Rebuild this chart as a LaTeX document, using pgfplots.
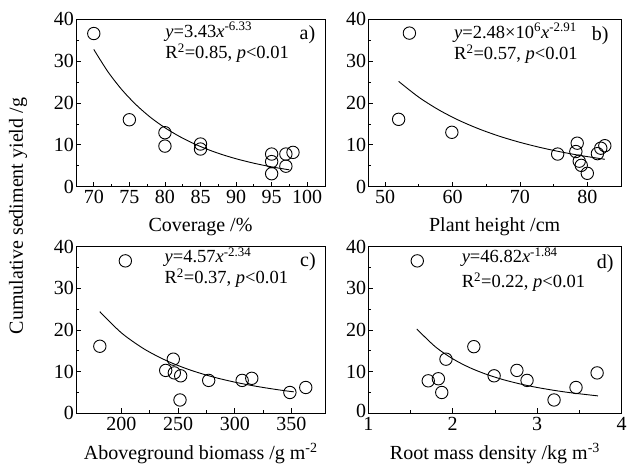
\documentclass[border=0pt]{standalone}
\usepackage{fontspec}
\setmainfont{Liberation Serif}
\usepackage{pgfplots}
\pgfplotsset{compat=1.18}
\pgfplotsset{
  panel/.style={
    scale only axis,
    ymin=0, ymax=40, ytick={0,10,20,30,40},
    minor x tick num=1, minor y tick num=1,
    tick pos=left, tick align=inside,
    major tick length=5pt, minor tick length=3pt,
    axis line style={line width=1pt},
    every tick/.style={black, line width=0.8pt},
    tick label style={font=\fontsize{20}{24}\selectfont},
    /pgf/number format/assume math mode=true,
    yticklabel style={inner xsep=2pt},
    label style={font=\fontsize{20}{24}\selectfont},
    xlabel style={at={(axis description cs:0.5,0)}, anchor=center, yshift=-40pt},
    clip=false,
  },
  pts/.style={only marks, mark=o, mark size=6.2pt, mark options={line width=0.9pt, black}},
  fit/.style={no marks, smooth, black, line width=0.9pt},
}
\newcommand{\ann}{\fontsize{18.5}{22}\selectfont}
\begin{document}
\begin{tikzpicture}
\useasboundingbox (0,0) rectangle (635pt,467pt);
\node[rotate=90, font=\fontsize{20}{24}\selectfont] at (18pt,251pt) {Cumulative sediment yield /g};

% a) Coverage
\begin{axis}[panel, at={(76pt,280.3pt)}, anchor=south west, width=249pt, height=167.4pt,
  xmin=67.5, xmax=102.5, xtick={70,75,...,100}, xlabel={Coverage /\%}]
\addplot[fit] coordinates {(70,32.80) (72,27.44) (74,23.07) (76,19.49) (78,16.53) (80,14.09) (82,12.05) (84,10.34) (86,8.91) (88,7.70) (90,6.68) (92,5.81) (94,5.07) (96,4.44) (97.5,4.03)};
\addplot[pts] coordinates {(70,36.6) (75,16.0) (80,12.9) (80,9.7) (85,10.2) (85,9.0) (95,7.8) (95,6.0) (95,3.1) (97,7.8) (97,4.9) (98,8.2)};
\node[anchor=west, font=\ann] at (rel axis cs:0.345,0.926) {\textit{y}=3.43\textit{x}\textsuperscript{-6.33}};
\node[anchor=west, font=\ann] at (rel axis cs:0.345,0.797) {R\textsuperscript{2}=0.85, \textit{p}<0.01};
\node[anchor=east, font=\fontsize{20}{24}\selectfont] at (rel axis cs:0.975,0.91) {a)};
\end{axis}

% b) Plant height
\begin{axis}[panel, at={(368.3pt,280.3pt)}, anchor=south west, width=252.7pt, height=167.4pt,
  xmin=47.5, xmax=85, xtick={50,60,70,80}, xlabel={Plant height /cm}]
\addplot[fit] coordinates {(52,25.17) (55,21.38) (58,18.32) (61,15.82) (64,13.76) (67,12.04) (70,10.60) (73,9.38) (76,8.34) (79,7.45) (82.6,6.55)};
\addplot[pts] coordinates {(53.6,36.7) (52.0,16.1) (59.9,13.0) (75.6,7.8) (78.5,10.4) (78.3,8.4) (78.8,6.1) (79.1,5.1) (80.0,3.2) (81.5,7.9) (82.0,9.2) (82.6,9.8)};
\node[anchor=west, font=\ann] at (rel axis cs:0.326,0.920) {\textit{y}=2.48×10\textsuperscript{6}\textit{x}\textsuperscript{-2.91}};
\node[anchor=west, font=\ann] at (rel axis cs:0.326,0.791) {R\textsuperscript{2}=0.57, \textit{p}<0.01};
\node[anchor=east, font=\fontsize{20}{24}\selectfont] at (rel axis cs:0.965,0.905) {b)};
\end{axis}

% c) Aboveground biomass
\begin{axis}[panel, at={(76pt,53.7pt)}, anchor=south west, width=249.5pt, height=166.6pt,
  xmin=160, xmax=380, xtick={200,250,300,350}, xlabel={Aboveground biomass /g m\textsuperscript{-2}}]
\addplot[fit] coordinates {(181,24.4) (200,19.32) (220,15.46) (240,12.61) (260,10.46) (280,8.79) (300,7.48) (320,6.43) (340,5.58) (352,5.15)};
\addplot[pts] coordinates {(203.5,36.6) (181,16.1) (245.8,13.0) (239.1,10.3) (246.7,9.7) (252.3,9.0) (251.7,3.2) (277,7.9) (306.5,7.9) (315,8.4) (348.6,5.0) (362.6,6.2)};
\node[anchor=west, font=\ann] at (rel axis cs:0.341,0.936) {\textit{y}=4.57\textit{x}\textsuperscript{-2.34}};
\node[anchor=west, font=\ann] at (rel axis cs:0.341,0.810) {R\textsuperscript{2}=0.37, \textit{p}<0.01};
\node[anchor=east, font=\fontsize{20}{24}\selectfont] at (rel axis cs:0.975,0.91) {c)};
\end{axis}

% d) Root mass density
\begin{axis}[panel, at={(368.3pt,53.7pt)}, anchor=south west, width=253.3pt, height=166.6pt,
  xmin=1, xmax=4, xtick={1,2,3,4}, xlabel={Root mass density /kg m\textsuperscript{-3}},
  yticklabels={\raisebox{4pt}{0},10,20,30,40}]
\addplot[fit] coordinates {(1.58,20.2) (1.6,19.72) (1.8,15.87) (2.0,13.08) (2.2,10.97) (2.4,9.35) (2.6,8.07) (2.8,7.04) (3.0,6.20) (3.2,5.51) (3.4,4.93) (3.72,4.18)};
\addplot[pts] coordinates {(1.58,36.6) (1.71,7.8) (1.83,8.3) (1.87,5.0) (1.92,13.0) (2.25,16.0) (2.49,9.0) (2.76,10.3) (2.88,7.9) (3.20,3.2) (3.46,6.2) (3.71,9.7)};
\node[anchor=west, font=\ann] at (rel axis cs:0.355,0.936) {\textit{y}=46.82\textit{x}\textsuperscript{-1.84}};
\node[anchor=west, font=\ann] at (rel axis cs:0.355,0.785) {R\textsuperscript{2}=0.22, \textit{p}<0.01};
\node[anchor=east, font=\fontsize{20}{24}\selectfont] at (rel axis cs:0.982,0.90) {d)};
\end{axis}
\end{tikzpicture}
\end{document}
